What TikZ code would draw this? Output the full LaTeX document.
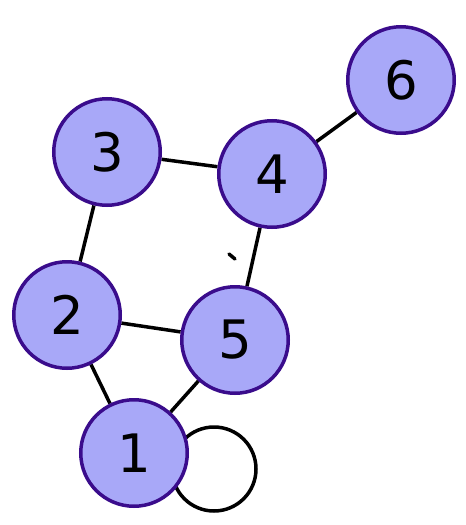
\documentclass[tikz,border=0pt]{standalone}
\usepackage{fontspec}
\setmainfont{DejaVu Sans}
\usetikzlibrary{backgrounds}
\definecolor{nodefill}{RGB}{168,168,248}
\definecolor{nodeedge}{RGB}{58,12,140}
\tikzset{
  vertex/.style={circle, draw=nodeedge, fill=nodefill, line width=3.5pt,
    minimum size=106.5pt, inner sep=0pt, font=\fontsize{53}{53}\selectfont},
  link/.style={draw=black, line width=3.5pt}
}
\begin{document}
\begin{tikzpicture}[x=1pt,y=-1pt]
\useasboundingbox (0,0) rectangle (466,525);
\node[vertex] (n6) at (401,80) {6};
\node[vertex] (n3) at (107,152) {3};
\node[vertex] (n4) at (272,174) {4};
\node[vertex] (n2) at (67,315) {2};
\node[vertex] (n5) at (235,340) {5};
\node[vertex] (n1) at (134,453) {1};
\begin{scope}[on background layer]
\fill[white] (0,0) rectangle (466,525);
\draw[link] (n3) -- (n2);
\draw[link] (n3) -- (n4);
\draw[link] (n4) -- (n6);
\draw[link] (n4) -- (n5);
\draw[link] (n2) -- (n5);
\draw[link] (n2) -- (n1);
\draw[link] (n5) -- (n1);
\draw[link] ([shift={(80,16)}]n1.center) circle (42);
\draw[line width=3.5pt, line cap=round] (229,254) -- (235,259);
\end{scope}
\end{tikzpicture}
\end{document}
